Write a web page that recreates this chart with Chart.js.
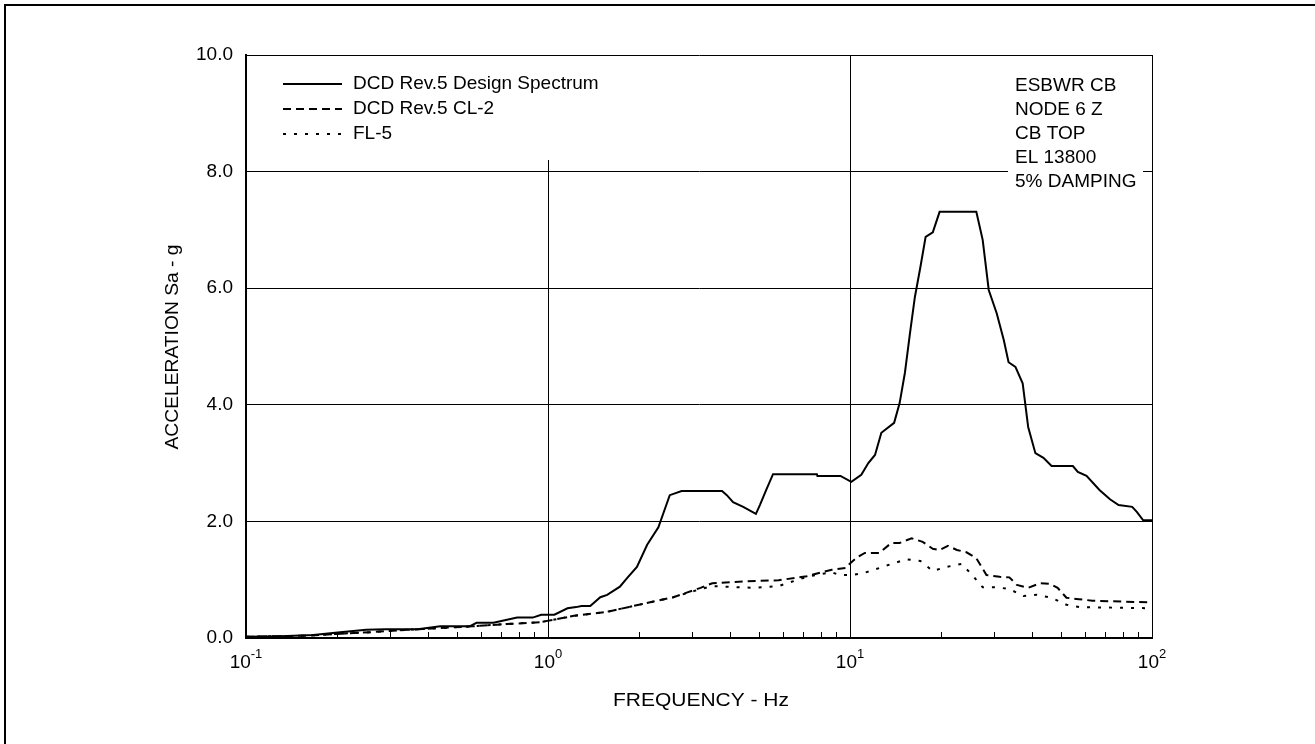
<!DOCTYPE html>
<html>
<head>
<meta charset="utf-8">
<title>ESBWR CB Node 6 Z</title>
<script src="https://cdn.jsdelivr.net/npm/chart.js@4.4.1/dist/chart.umd.min.js"></script>
<style>
    body { margin: 0; background: #fff; }
    #wrap { position: relative; width: 1315px; height: 744px; }
</style>
</head>
<body>
<div id="wrap"><canvas id="spectrum"></canvas></div>
<script>
// Design spectrum (solid)
const freqDesign = [0.1, 0.13, 0.167, 0.205, 0.25, 0.29, 0.37, 0.44, 0.55, 0.58, 0.66, 0.79, 0.89, 0.95, 1.05,
    1.16, 1.24, 1.29, 1.38, 1.49, 1.57, 1.73, 1.83, 1.97, 2.13, 2.32, 2.53, 2.77, 3.77, 3.91, 4.10, 4.43, 4.88,
    5.03, 5.28, 5.56, 7.77, 7.80, 9.3, 10.1, 10.9, 11.5, 12.1, 12.7, 14.0, 14.6, 15.2, 15.8, 16.4, 17.1, 17.8,
    18.8, 19.8, 26.2, 27.5, 28.8, 30.6, 32.3, 33.5, 35.3, 37.3, 38.9, 41.1, 43.7, 46.5, 54.7, 56.8, 60.7, 67.0,
    72.6, 77.5, 86.0, 89.2, 93.5, 100];
const accDesign = [0.02, 0.03, 0.05, 0.10, 0.14, 0.15, 0.15, 0.20, 0.20, 0.26, 0.26, 0.35, 0.35, 0.40, 0.40,
    0.51, 0.53, 0.55, 0.55, 0.70, 0.74, 0.88, 1.03, 1.22, 1.60, 1.90, 2.45, 2.52, 2.52, 2.45, 2.33, 2.25, 2.13,
    2.28, 2.54, 2.81, 2.81, 2.78, 2.78, 2.68, 2.80, 3.00, 3.14, 3.52, 3.69, 4.03, 4.55, 5.23, 5.85, 6.36, 6.88,
    6.96, 7.31, 7.31, 6.83, 5.97, 5.57, 5.11, 4.73, 4.65, 4.37, 3.62, 3.17, 3.09, 2.95, 2.95, 2.85, 2.78, 2.54,
    2.38, 2.28, 2.25, 2.16, 2.02, 2.02];

// CL-2 (dashed)
const freqCL2 = [0.1, 0.159, 0.2, 0.26, 0.34, 0.44, 0.56, 0.73, 0.94, 1.22, 1.57, 2.0, 2.6, 3.2, 3.5, 4.9, 5.8,
    7.2, 8.7, 9.7, 10.0, 10.6, 11.2, 12.5, 13.7, 14.6, 16.0, 17.4, 18.8, 19.8, 21.1, 22.6, 24.3, 26.2, 28.3,
    31.3, 33.7, 35.7, 38.9, 42.6, 45.8, 48.7, 52.1, 56.1, 63.5, 100];
const accCL2 = [0.02, 0.04, 0.07, 0.10, 0.14, 0.17, 0.20, 0.24, 0.27, 0.38, 0.45, 0.57, 0.70, 0.86, 0.94, 0.98, 0.99,
    1.06, 1.17, 1.20, 1.28, 1.39, 1.46, 1.46, 1.63, 1.63, 1.71, 1.65, 1.53, 1.51, 1.58, 1.51, 1.47, 1.37, 1.08,
    1.05, 1.04, 0.91, 0.86, 0.94, 0.93, 0.86, 0.69, 0.67, 0.64, 0.61];

// FL-5 (dotted)
const freqFL5 = [0.1, 0.159, 0.2, 0.26, 0.34, 0.44, 0.56, 0.73, 0.94, 1.22, 1.57, 2.0, 2.6, 3.2, 3.5, 4.8, 5.8,
    7.2, 8.7, 9.2, 10.2, 11.2, 12.5, 13.9, 15.4, 17.1, 18.8, 20.9, 23.4, 25.4, 27.5, 30.6, 33.7, 37.5, 41.6,
    46.5, 52.1, 57.5, 100];
const accFL5 = [0.02, 0.04, 0.07, 0.10, 0.14, 0.17, 0.20, 0.24, 0.27, 0.38, 0.45, 0.57, 0.70, 0.84, 0.89, 0.86, 0.89,
    1.05, 1.13, 1.08, 1.08, 1.12, 1.20, 1.28, 1.35, 1.32, 1.15, 1.22, 1.27, 1.08, 0.87, 0.87, 0.84, 0.72, 0.74,
    0.69, 0.57, 0.53, 0.51];

const seriesNames = ['DCD Rev.5 Design Spectrum', 'DCD Rev.5 CL-2', 'FL-5'];
const seriesDash = [[], [8, 5], [3, 8]];
const noteLines = ['ESBWR CB', 'NODE 6 Z', 'CB TOP', 'EL 13800', '5% DAMPING'];
const yTicks = [0, 2, 4, 6, 8, 10];
const xDecades = [-1, 0, 1, 2];

const FONT = '"Liberation Sans", Arial, sans-serif';

function toPoints(xs, ys) {
    return xs.map((x, i) => ({ x: x, y: ys[i] }));
}

// draw text squeezed/stretched horizontally by sx
function drawScaled(ctx, text, x, y, sx) {
    ctx.save();
    ctx.translate(x, y);
    ctx.scale(sx, 1);
    ctx.fillText(text, 0, 0);
    ctx.restore();
}

// every 1..9 x 10^n between 0.1 and 100
const allXTicks = [];
for (let d = -1; d < 2; d++) {
    for (let m = 1; m < 10; m++) allXTicks.push(+(m * Math.pow(10, d)).toPrecision(3));
}
allXTicks.push(100);

const decorations = {
    id: 'decorations',
    beforeDatasetsDraw(chart) {
        const ctx = chart.ctx;
        const area = chart.chartArea;
        ctx.save();
        // legend boxes hide the grid behind them
        ctx.fillStyle = '#fff';
        ctx.fillRect(area.left + 1, area.top + 1, 360, 104);
        ctx.fillRect(1008, area.top + 1, 135, 138);
        ctx.restore();
    },
    afterDraw(chart) {
        const ctx = chart.ctx;
        const area = chart.chartArea;
        const xs = chart.scales.x;
        const ys = chart.scales.y;
        ctx.save();
        ctx.fillStyle = '#000';
        ctx.strokeStyle = '#000';

        // outer frame (left and top only show)
        ctx.lineWidth = 2;
        ctx.beginPath();
        ctx.moveTo(5, 744);
        ctx.lineTo(5, 5);
        ctx.lineTo(1315, 5);
        ctx.stroke();

        // minor ticks along bottom, inward
        ctx.lineWidth = 1;
        allXTicks.forEach(v => {
            const p = Math.round(xs.getPixelForValue(v)) + 0.5;
            ctx.beginPath();
            ctx.moveTo(p, area.bottom);
            ctx.lineTo(p, area.bottom - 6);
            ctx.stroke();
        });

        // y tick labels
        ctx.font = '19px ' + FONT;
        ctx.textAlign = 'right';
        ctx.textBaseline = 'middle';
        yTicks.forEach(v => {
            ctx.fillText(v.toFixed(1), area.left - 13, ys.getPixelForValue(v));
        });

        // x tick labels 10^n
        xDecades.forEach(n => {
            const px = xs.getPixelForValue(Math.pow(10, n));
            ctx.font = '19px ' + FONT;
            const baseW = ctx.measureText('10').width;
            ctx.font = '13px ' + FONT;
            const sup = String(n);
            const supW = ctx.measureText(sup).width;
            const left = px - (baseW + supW) / 2;
            ctx.textAlign = 'left';
            ctx.textBaseline = 'alphabetic';
            ctx.font = '19px ' + FONT;
            ctx.fillText('10', left, area.bottom + 30);
            ctx.font = '13px ' + FONT;
            ctx.fillText(sup, left + baseW, area.bottom + 20);
        });

        // axis titles
        ctx.font = '19px ' + FONT;
        ctx.textAlign = 'center';
        ctx.textBaseline = 'alphabetic';
        let w = ctx.measureText('FREQUENCY - Hz').width;
        drawScaled(ctx, 'FREQUENCY - Hz', (area.left + area.right) / 2 + 2, 706, 176 / w);
        w = ctx.measureText('ACCELERATION Sa - g').width;
        ctx.save();
        ctx.translate(173, 347);
        ctx.rotate(-Math.PI / 2);
        ctx.textBaseline = 'middle';
        drawScaled(ctx, 'ACCELERATION Sa - g', 0, 0, 205 / w);
        ctx.restore();

        // legend
        ctx.font = '19px ' + FONT;
        ctx.textAlign = 'left';
        ctx.textBaseline = 'middle';
        seriesNames.forEach((name, i) => {
            const ly = 84 + i * 25;
            ctx.lineWidth = 2;
            ctx.setLineDash(seriesDash[i]);
            ctx.beginPath();
            ctx.moveTo(283, ly);
            ctx.lineTo(342, ly);
            ctx.stroke();
            ctx.setLineDash([]);
            ctx.fillText(name, 353, ly);
        });

        // note block at top right
        noteLines.forEach((t, i) => {
            ctx.fillText(t, 1015, 86 + i * 24);
        });
        ctx.restore();
    }
};

new Chart(document.getElementById('spectrum'), {
    type: 'line',
    data: {
        datasets: [
            { label: seriesNames[0], data: toPoints(freqDesign, accDesign), borderDash: seriesDash[0] },
            { label: seriesNames[1], data: toPoints(freqCL2, accCL2), borderDash: seriesDash[1] },
            { label: seriesNames[2], data: toPoints(freqFL5, accFL5), borderDash: seriesDash[2] }
        ].map(ds => Object.assign(ds, {
            borderColor: '#000',
            borderWidth: 2,
            pointRadius: 0,
            tension: 0,
            fill: false
        }))
    },
    options: {
        responsive: true,
        maintainAspectRatio: false,
        animation: false,
        layout: { padding: { left: 246, top: 55, right: 163, bottom: 106 } },
        plugins: {
            legend: { display: false },
            tooltip: { enabled: false }
        },
        scales: {
            x: {
                type: 'logarithmic',
                min: 0.1,
                max: 100,
                afterBuildTicks: scale => {
                    scale.ticks = allXTicks.map(v => ({ value: v }));
                },
                ticks: { display: false },
                grid: {
                    drawTicks: false,
                    lineWidth: 1,
                    color: c => {
                        const v = c.tick ? c.tick.value : 0;
                        return [0.1, 1, 10, 100].includes(v) ? '#000' : 'rgba(0,0,0,0)';
                    }
                },
                border: { color: '#000', width: 2 }
            },
            y: {
                min: 0,
                max: 10,
                ticks: { display: false, stepSize: 2 },
                grid: { drawTicks: false, color: '#000', lineWidth: 1 },
                border: { color: '#000', width: 2 }
            }
        }
    },
    plugins: [decorations]
});
</script>
</body>
</html>
